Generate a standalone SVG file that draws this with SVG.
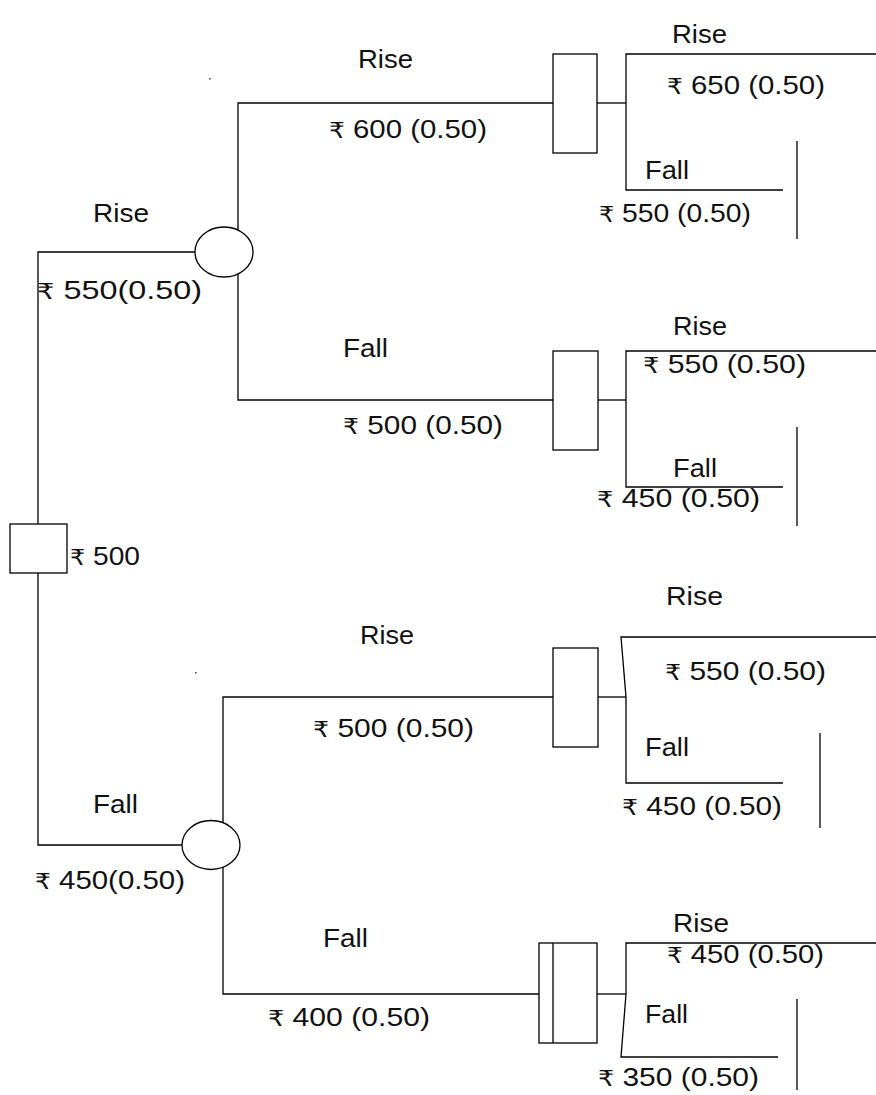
<svg xmlns="http://www.w3.org/2000/svg" width="876" height="1095" viewBox="0 0 876 1095">
<style>
.ln{stroke:#000;stroke-width:1.3;fill:none}
.nd{stroke:#000;stroke-width:1.3;fill:#fff}
.t{font-family:"Liberation Sans","DejaVu Sans",Arial,sans-serif;font-size:26px;fill:#111}
.r{font-size:22px;font-family:"DejaVu Sans","Liberation Sans",sans-serif}
</style>
<rect width="876" height="1095" fill="#fff"/>
<g id="connectors">
<polyline class="ln" points="195,252 38,252 38,845 182,845"/>
<polyline class="ln" points="553,103 238,103 238,400 553,400"/>
<line class="ln" x1="597" y1="103" x2="626" y2="103"/>
<polyline class="ln" points="876,54 626,54 626,190 783,190"/>
<line class="ln" x1="797" y1="141" x2="797" y2="239"/>
<line class="ln" x1="598" y1="400" x2="626" y2="400"/>
<polyline class="ln" points="876,351 626,351 626,487 783,487"/>
<line class="ln" x1="797" y1="427" x2="797" y2="526"/>
<polyline class="ln" points="553,697 223,697 223,994 539,994"/>
<line class="ln" x1="598" y1="697" x2="626" y2="697"/>
<polyline class="ln" points="876,637 621,637 626,697 626,783 783,783"/>
<line class="ln" x1="820" y1="733" x2="820" y2="828"/>
<line class="ln" x1="597" y1="994" x2="626" y2="994"/>
<polyline class="ln" points="876,943 626,943 626,994 621,1057 778,1057"/>
<line class="ln" x1="797" y1="999" x2="797" y2="1090"/>
</g>
<g id="root"><rect class="nd" x="10" y="524" width="57" height="49"/></g>
<g id="chance1"><ellipse class="nd" cx="224" cy="252" rx="29" ry="25"/></g>
<g id="chance2"><ellipse class="nd" cx="211" cy="845" rx="29" ry="24.5"/></g>
<g id="dec1"><rect class="nd" x="553" y="54" width="44" height="99"/></g>
<g id="dec2"><rect class="nd" x="553" y="351" width="45" height="99"/></g>
<g id="dec3"><rect class="nd" x="553" y="648" width="45" height="99"/></g>
<g id="dec4"><rect class="nd" x="539" y="943" width="58" height="100"/><line class="ln" x1="553" y1="943" x2="553" y2="1043"/></g>
<g id="specks" fill="#555"><rect x="209" y="78" width="1.6" height="1.6"/><rect x="195" y="672" width="1.6" height="1.6"/></g>
<g id="labels">
<text class="t" x="358" y="68" textLength="55" lengthAdjust="spacingAndGlyphs">Rise</text>
<text class="t" x="329" y="138" textLength="158" lengthAdjust="spacingAndGlyphs"><tspan class="r">₹</tspan> 600 (0.50)</text>
<text class="t" x="672" y="43" textLength="55" lengthAdjust="spacingAndGlyphs">Rise</text>
<text class="t" x="667" y="94" textLength="158" lengthAdjust="spacingAndGlyphs"><tspan class="r">₹</tspan> 650 (0.50)</text>
<text class="t" x="645" y="179" textLength="44" lengthAdjust="spacingAndGlyphs">Fall</text>
<text class="t" x="599" y="222" textLength="152" lengthAdjust="spacingAndGlyphs"><tspan class="r">₹</tspan> 550 (0.50)</text>
<text class="t" x="93" y="222" textLength="56" lengthAdjust="spacingAndGlyphs">Rise</text>
<text class="t" x="37" y="299" textLength="165" lengthAdjust="spacingAndGlyphs"><tspan class="r">₹</tspan> 550(0.50)</text>
<text class="t" x="343" y="357" textLength="45" lengthAdjust="spacingAndGlyphs">Fall</text>
<text class="t" x="343" y="434" textLength="160" lengthAdjust="spacingAndGlyphs"><tspan class="r">₹</tspan> 500 (0.50)</text>
<text class="t" x="673" y="335" textLength="54" lengthAdjust="spacingAndGlyphs">Rise</text>
<text class="t" x="643" y="373" textLength="163" lengthAdjust="spacingAndGlyphs"><tspan class="r">₹</tspan> 550 (0.50)</text>
<text class="t" x="673" y="477" textLength="44" lengthAdjust="spacingAndGlyphs">Fall</text>
<text class="t" x="597" y="507" textLength="163" lengthAdjust="spacingAndGlyphs"><tspan class="r">₹</tspan> 450 (0.50)</text>
<text class="t" x="70" y="565" textLength="70" lengthAdjust="spacingAndGlyphs"><tspan class="r">₹</tspan> 500</text>
<text class="t" x="360" y="644" textLength="54" lengthAdjust="spacingAndGlyphs">Rise</text>
<text class="t" x="313" y="737" textLength="161" lengthAdjust="spacingAndGlyphs"><tspan class="r">₹</tspan> 500 (0.50)</text>
<text class="t" x="666" y="605" textLength="57" lengthAdjust="spacingAndGlyphs">Rise</text>
<text class="t" x="665" y="680" textLength="161" lengthAdjust="spacingAndGlyphs"><tspan class="r">₹</tspan> 550 (0.50)</text>
<text class="t" x="645" y="756" textLength="44" lengthAdjust="spacingAndGlyphs">Fall</text>
<text class="t" x="622" y="815" textLength="160" lengthAdjust="spacingAndGlyphs"><tspan class="r">₹</tspan> 450 (0.50)</text>
<text class="t" x="93" y="813" textLength="45" lengthAdjust="spacingAndGlyphs">Fall</text>
<text class="t" x="35" y="889" textLength="150" lengthAdjust="spacingAndGlyphs"><tspan class="r">₹</tspan> 450(0.50)</text>
<text class="t" x="323" y="947" textLength="45" lengthAdjust="spacingAndGlyphs">Fall</text>
<text class="t" x="268" y="1026" textLength="162" lengthAdjust="spacingAndGlyphs"><tspan class="r">₹</tspan> 400 (0.50)</text>
<text class="t" x="673" y="932" textLength="56" lengthAdjust="spacingAndGlyphs">Rise</text>
<text class="t" x="667" y="963" textLength="157" lengthAdjust="spacingAndGlyphs"><tspan class="r">₹</tspan> 450 (0.50)</text>
<text class="t" x="645" y="1023" textLength="43" lengthAdjust="spacingAndGlyphs">Fall</text>
<text class="t" x="598" y="1086" textLength="161" lengthAdjust="spacingAndGlyphs"><tspan class="r">₹</tspan> 350 (0.50)</text>
</g>
</svg>
